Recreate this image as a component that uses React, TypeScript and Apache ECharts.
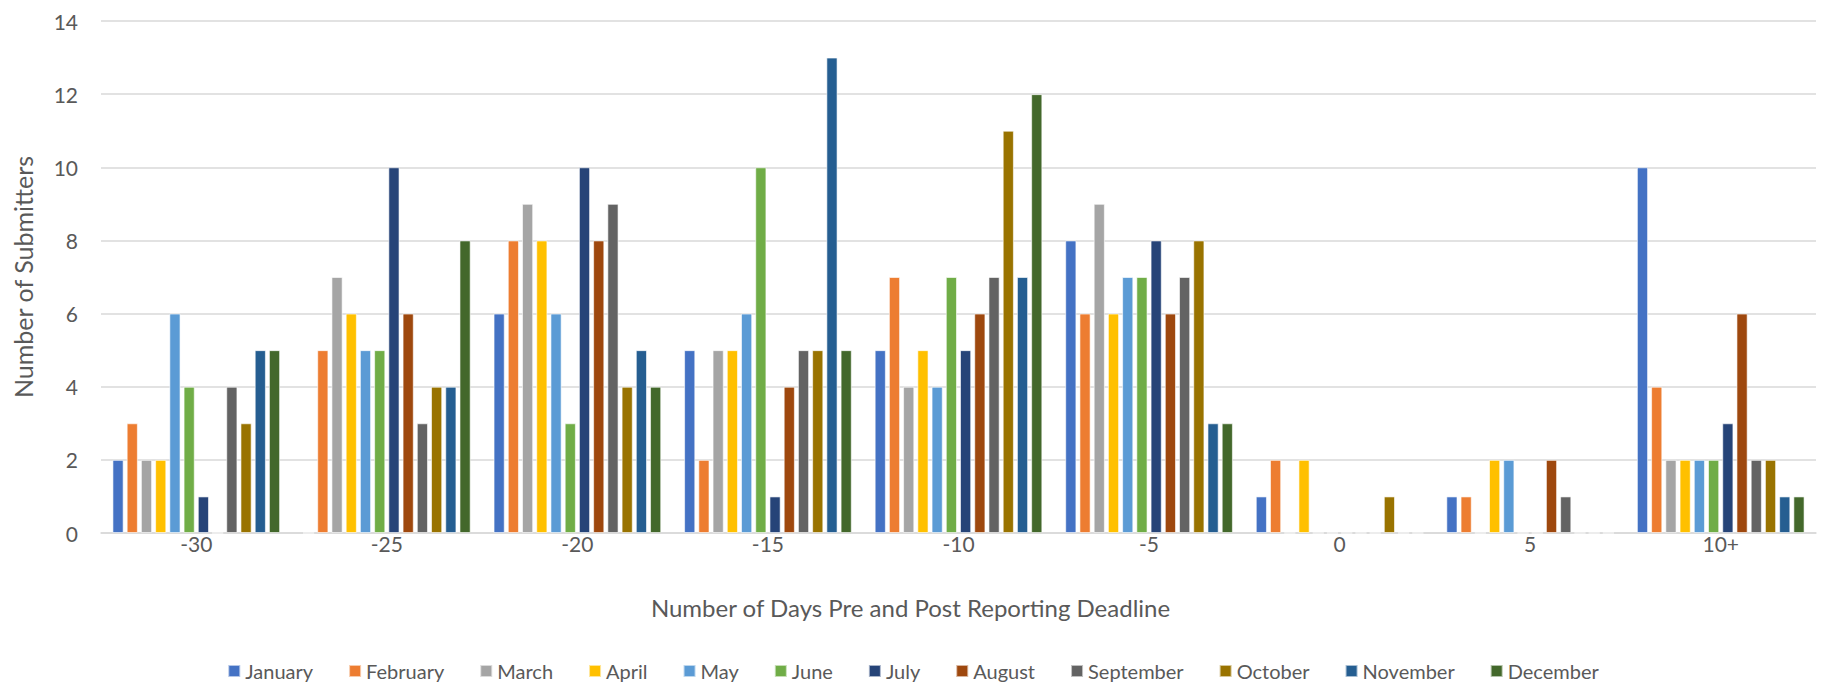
import React, { useEffect, useRef } from "react";
import * as echarts from "echarts";

const categories = ["-30", "-25", "-20", "-15", "-10", "-5", "0", "5", "10+"];
const months = ["January", "February", "March", "April", "May", "June", "July", "August", "September", "October", "November", "December"];
const colors = ["#4472C4", "#ED7D31", "#A5A5A5", "#FFC000", "#5B9BD5", "#70AD47", "#264478", "#9E480E", "#636363", "#997300", "#255E91", "#43682B"];

const january = [2, 0, 6, 5, 5, 8, 1, 1, 10];
const february = [3, 5, 8, 2, 7, 6, 2, 1, 4];
const march = [2, 7, 9, 5, 4, 9, 0, 0, 2];
const april = [2, 6, 8, 5, 5, 6, 2, 2, 2];
const may = [6, 5, 6, 6, 4, 7, 0, 2, 2];
const june = [4, 5, 3, 10, 7, 7, 0, 0, 2];
const july = [1, 10, 10, 1, 5, 8, 0, 0, 3];
const august = [0, 6, 8, 4, 6, 6, 0, 2, 6];
const september = [4, 3, 9, 5, 7, 7, 0, 1, 2];
const october = [3, 4, 4, 5, 11, 8, 1, 0, 2];
const november = [5, 4, 5, 13, 7, 3, 0, 0, 1];
const december = [5, 8, 4, 5, 12, 3, 0, 0, 1];

const seriesData = [january, february, march, april, may, june, july, august, september, october, november, december];

const FONT = "Lato, 'Open Sans', sans-serif";
const TEXT = "#595959";

export default function App() {
  const ref = useRef<HTMLDivElement>(null);
  useEffect(() => {
    if (!ref.current) return;
    const chart = echarts.init(ref.current, undefined, { renderer: "svg" });
    chart.setOption({
      animation: false,
      backgroundColor: "#ffffff",
      color: colors,
      textStyle: { fontFamily: FONT, color: TEXT },
      grid: { left: 101, right: 10, top: 21, bottom: 156, containLabel: false },
      legend: {
        bottom: 3,
        left: "center",
        itemWidth: 12,
        itemHeight: 12,
        itemGap: 35,
        icon: "rect",
        textStyle: { fontSize: 20, color: TEXT, fontFamily: FONT },
        data: months,
      },
      xAxis: {
        type: "category",
        data: categories,
        name: "Number of Days Pre and Post Reporting Deadline",
        nameLocation: "middle",
        nameGap: 62,
        nameTextStyle: { fontSize: 24, color: TEXT, fontFamily: FONT, padding: [0, 96, 0, 0] },
        axisLine: { lineStyle: { color: "#D9D9D9", width: 1.5 } },
        axisTick: { show: false },
        axisLabel: { fontSize: 21, color: TEXT, margin: 0, lineHeight: 21 },
      },
      yAxis: {
        type: "value",
        min: 0,
        max: 14,
        interval: 2,
        name: "Number of Submitters",
        nameLocation: "middle",
        nameGap: 66,
        nameTextStyle: { fontSize: 25, color: TEXT, fontFamily: FONT },
        axisLine: { show: false },
        axisTick: { show: false },
        axisLabel: { fontSize: 21, color: TEXT, margin: 23 },
        splitLine: { lineStyle: { color: "#D9D9D9", width: 1.5 } },
      },
      series: months.map((m, i) => ({
        name: m,
        type: "bar",
        data: seriesData[i],
        barGap: "27%",
        barCategoryGap: "12%",
        itemStyle: { color: colors[i], borderColor: "rgba(255,255,255,0.6)", borderWidth: 1 },
      })),
    });
    return () => chart.dispose();
  }, []);
  return (
    <div
      ref={ref}
      style={{ position: "fixed", left: 0, top: 0, width: 1826, height: 689 }}
    />
  );
}
